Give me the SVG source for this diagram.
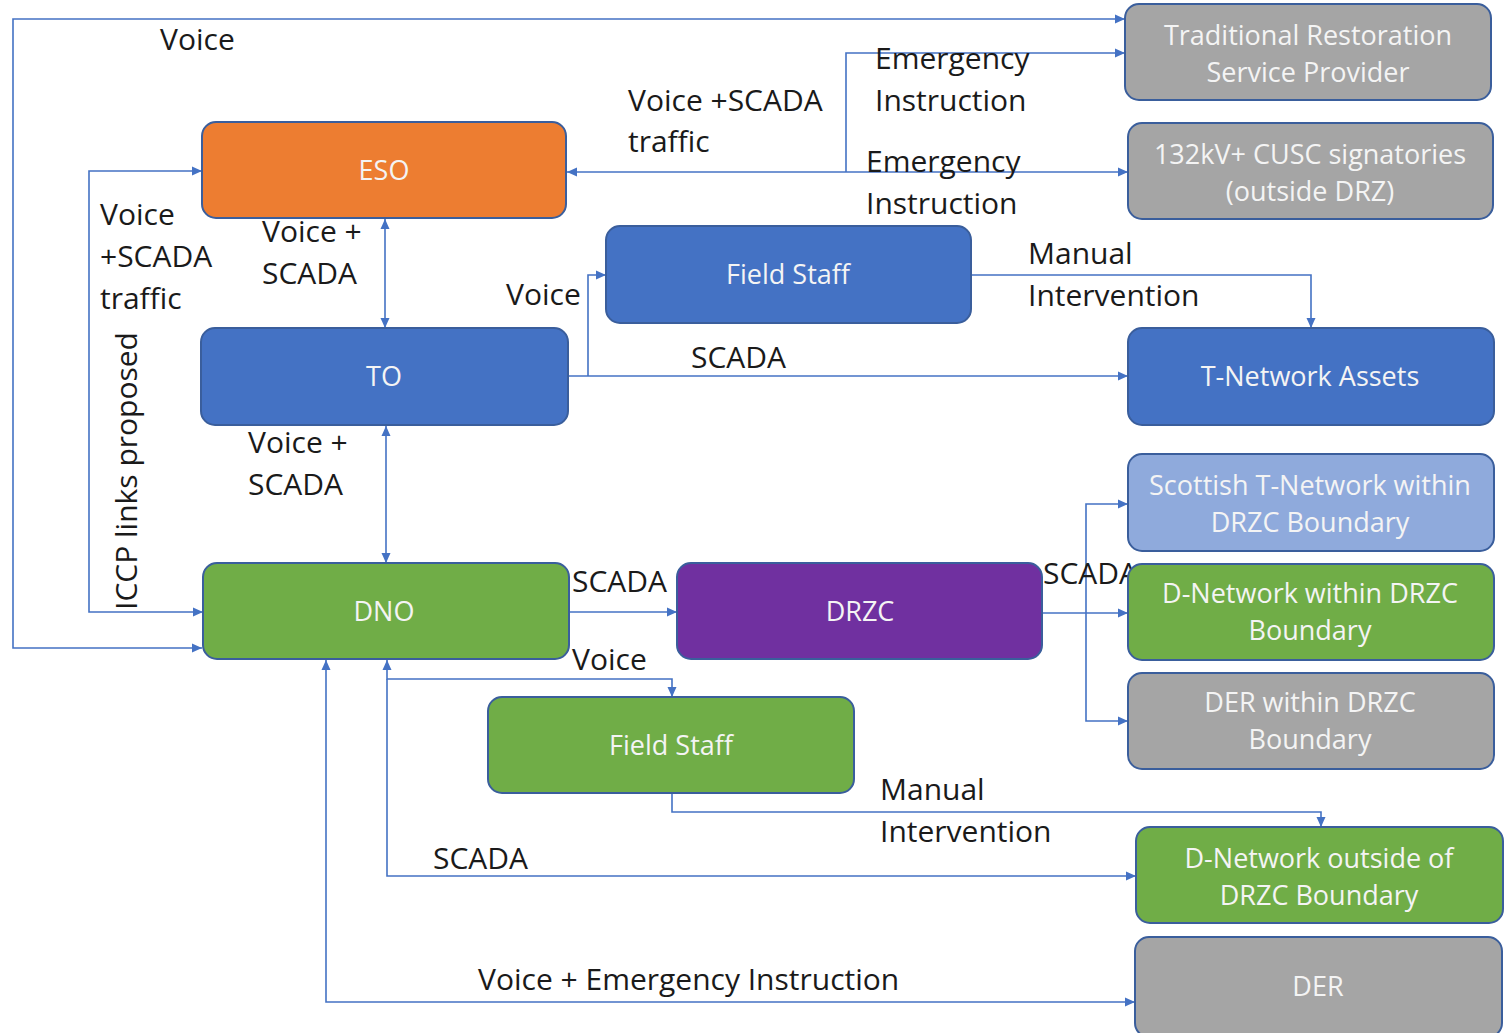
<svg xmlns="http://www.w3.org/2000/svg" width="1506" height="1033" viewBox="0 0 1506 1033">
<style>
.node rect{stroke:#3A5E9C;stroke-width:2}
.nt{font-family:"Open Sans","Liberation Sans",sans-serif;font-size:27px;fill:#F4F4F4;text-anchor:middle}
.lb{font-family:"Open Sans","Liberation Sans",sans-serif;font-size:30px;fill:#1A1A1A}
.c{fill:none;stroke:#4472C4;stroke-width:1.6}
</style>
<defs>
<marker id="ah" markerUnits="userSpaceOnUse" markerWidth="10" markerHeight="10" viewBox="0 0 10 10" refX="10" refY="5" orient="auto-start-reverse">
<path d="M0,0.5 L10,5 L0,9.5 z" fill="#4472C4"/>
</marker>
</defs>
<rect width="1506" height="1033" fill="#FFFFFF"/>

<g id="connectors">
<path class="c" d="M202,648 H13 V19 H1125" marker-start="url(#ah)" marker-end="url(#ah)"/>
<path class="c" d="M203,612 H89 V171 H202" marker-start="url(#ah)" marker-end="url(#ah)"/>
<path class="c" d="M385,219 V328" marker-start="url(#ah)" marker-end="url(#ah)"/>
<path class="c" d="M386,426 V563" marker-start="url(#ah)" marker-end="url(#ah)"/>
<path class="c" d="M567,172 H1128" marker-start="url(#ah)" marker-end="url(#ah)"/>
<path class="c" d="M846,172 V53 H1125" marker-end="url(#ah)"/>
<path class="c" d="M568,376 H1128" marker-end="url(#ah)"/>
<path class="c" d="M588,376 V275 H606" marker-end="url(#ah)"/>
<path class="c" d="M971,275 H1311 V328" marker-end="url(#ah)"/>
<path class="c" d="M569,612 H677" marker-end="url(#ah)"/>
<path class="c" d="M1042,613 H1128" marker-end="url(#ah)"/>
<path class="c" d="M1086,613 V504 H1128" marker-end="url(#ah)"/>
<path class="c" d="M1086,613 V721 H1128" marker-end="url(#ah)"/>
<path class="c" d="M387,660 V679 H672 V697" marker-start="url(#ah)" marker-end="url(#ah)"/>
<path class="c" d="M387,679 V876 H1136" marker-end="url(#ah)"/>
<path class="c" d="M672,794 V812 H1321 V827" marker-end="url(#ah)"/>
<path class="c" d="M326,660 V1002 H1135" marker-start="url(#ah)" marker-end="url(#ah)"/>
</g>

<g id="labels">
<text class="lb" x="160" y="50">Voice</text>
<text class="lb" x="628" y="111">Voice +SCADA</text>
<text class="lb" x="628" y="152">traffic</text>
<text class="lb" x="875" y="69">Emergency</text>
<text class="lb" x="875" y="111">Instruction</text>
<text class="lb" x="866" y="172">Emergency</text>
<text class="lb" x="866" y="214">Instruction</text>
<text class="lb" x="100" y="225">Voice</text>
<text class="lb" x="100" y="267">+SCADA</text>
<text class="lb" x="100" y="309">traffic</text>
<text class="lb" x="262" y="242">Voice +</text>
<text class="lb" x="262" y="284">SCADA</text>
<text class="lb" x="506" y="305">Voice</text>
<text class="lb" x="1028" y="264">Manual</text>
<text class="lb" x="1028" y="306">Intervention</text>
<text class="lb" x="691" y="368">SCADA</text>
<text class="lb" x="248" y="453">Voice +</text>
<text class="lb" x="248" y="495">SCADA</text>
<text class="lb" transform="translate(137,610) rotate(-90)">ICCP links proposed</text>
<text class="lb" x="572" y="592">SCADA</text>
<text class="lb" x="1043" y="584">SCADA</text>
<text class="lb" x="572" y="670">Voice</text>
<text class="lb" x="880" y="800">Manual</text>
<text class="lb" x="880" y="842">Intervention</text>
<text class="lb" x="433" y="869">SCADA</text>
<text class="lb" x="478" y="990">Voice + Emergency Instruction</text>
</g>

<g id="n-trsp" class="node"><rect x="1125" y="4" width="366" height="96" rx="14" fill="#A5A5A5"/>
<text class="nt" x="1308" y="45">Traditional Restoration</text><text class="nt" x="1308" y="82">Service Provider</text></g>
<g id="n-cusc" class="node"><rect x="1128" y="123" width="365" height="96" rx="14" fill="#A5A5A5"/>
<text class="nt" x="1310" y="164">132kV+ CUSC signatories</text><text class="nt" x="1310" y="201">(outside DRZ)</text></g>
<g id="n-eso" class="node"><rect x="202" y="122" width="364" height="96" rx="14" fill="#ED7D31"/>
<text class="nt" x="384" y="180">ESO</text></g>
<g id="n-fs1" class="node"><rect x="606" y="226" width="365" height="97" rx="14" fill="#4472C4"/>
<text class="nt" x="788" y="284">Field Staff</text></g>
<g id="n-to" class="node"><rect x="201" y="328" width="367" height="97" rx="14" fill="#4472C4"/>
<text class="nt" x="384" y="386">TO</text></g>
<g id="n-tna" class="node"><rect x="1128" y="328" width="366" height="97" rx="14" fill="#4472C4"/>
<text class="nt" x="1310" y="386">T-Network Assets</text></g>
<g id="n-stn" class="node"><rect x="1128" y="454" width="366" height="97" rx="14" fill="#8FAADC"/>
<text class="nt" x="1310" y="495">Scottish T-Network within</text><text class="nt" x="1310" y="532">DRZC Boundary</text></g>
<g id="n-dno" class="node"><rect x="203" y="563" width="366" height="96" rx="14" fill="#70AD47"/>
<text class="nt" x="384" y="621">DNO</text></g>
<g id="n-drzc" class="node"><rect x="677" y="563" width="365" height="96" rx="14" fill="#7030A0"/>
<text class="nt" x="860" y="621">DRZC</text></g>
<g id="n-dnw" class="node"><rect x="1128" y="564" width="366" height="96" rx="14" fill="#70AD47"/>
<text class="nt" x="1310" y="603">D-Network within DRZC</text><text class="nt" x="1310" y="640">Boundary</text></g>
<g id="n-derw" class="node"><rect x="1128" y="673" width="366" height="96" rx="14" fill="#A5A5A5"/>
<text class="nt" x="1310" y="712">DER within DRZC</text><text class="nt" x="1310" y="749">Boundary</text></g>
<g id="n-fs2" class="node"><rect x="488" y="697" width="366" height="96" rx="14" fill="#70AD47"/>
<text class="nt" x="671" y="755">Field Staff</text></g>
<g id="n-dno2" class="node"><rect x="1136" y="827" width="367" height="96" rx="14" fill="#70AD47"/>
<text class="nt" x="1319" y="868">D-Network outside of</text><text class="nt" x="1319" y="905">DRZC Boundary</text></g>
<g id="n-der" class="node"><rect x="1135" y="937" width="367" height="100" rx="14" fill="#A5A5A5"/>
<text class="nt" x="1318" y="996">DER</text></g>
</svg>
